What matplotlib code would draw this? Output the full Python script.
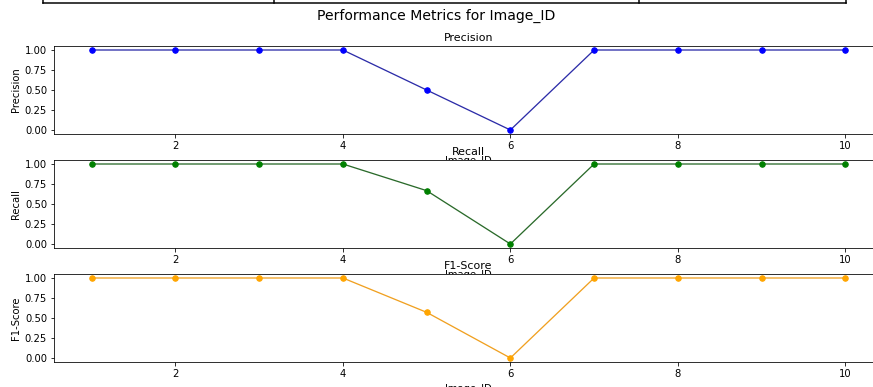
import matplotlib
matplotlib.use("Agg")
import matplotlib.pyplot as plt
from matplotlib.lines import Line2D

# data
image_ids = [1, 2, 3, 4, 5, 6, 7, 8, 9, 10]
precision = [1, 1, 1, 1, 0.5, 0, 1, 1, 1, 1]
recall = [1, 1, 1, 1, 0.667, 0, 1, 1, 1, 1]
f1_score = [1, 1, 1, 1, 0.571, 0, 1, 1, 1, 1]
y_ticks = [0.0, 0.25, 0.5, 0.75, 1.0]
x_ticks = [2, 4, 6, 8, 10]

# (name, values, line colour, marker colour)
metrics = [("Precision", precision, "#2c2ca8", "blue"),
           ("Recall", recall, "#2a6a2a", "green"),
           ("F1-Score", f1_score, "#f0a020", "orange")]

W, H = 873, 387
fig = plt.figure(figsize=(W / 72, H / 72), dpi=72)

# axes boxes in pixels (left, top, right, bottom) - right side runs past the crop
boxes = [(54, 46, 883, 134), (54, 160, 883, 248), (54, 274, 883, 362)]

for (name, vals, lcol, mcol), (l, t, r, b) in zip(metrics, boxes):
    ax = fig.add_axes([l / W, 1 - b / H, (r - l) / W, (b - t) / H])
    ax.plot(image_ids, vals, marker="o", color=lcol, lw=1.3, ms=5.5,
            markerfacecolor=mcol, markeredgecolor=mcol)
    ax.set_title(name, fontsize=11, pad=5)
    ax.set_xlabel("Image_ID", fontsize=10)
    ax.set_ylabel(name, fontsize=10)
    ax.set_xticks(x_ticks)
    ax.set_yticks(y_ticks)
    ax.set_yticklabels([f"{v:.2f}" for v in y_ticks])
    ax.spines["right"].set_visible(False)

fig.suptitle("Performance Metrics for Image_ID", fontsize=14, y=1 - 16 / H, va="center")

# bit of a table cut off at the top of the screenshot
ytab = 1 - 3 / H
fig.add_artist(Line2D([43 / W, 846 / W], [ytab, ytab], color="black", lw=1.5))
for xp in [43, 274, 639, 846]:
    fig.add_artist(Line2D([xp / W, xp / W], [ytab, 1.0], color="black", lw=1.5))

fig.savefig("out.png", dpi=72)
